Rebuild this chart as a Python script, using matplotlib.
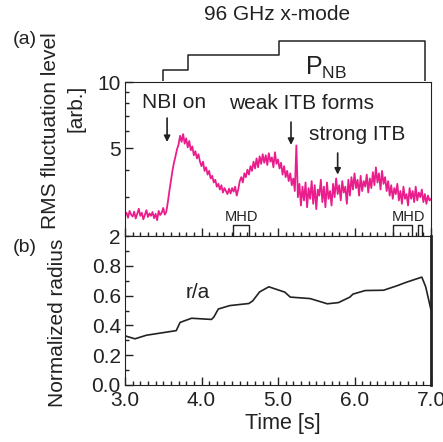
import numpy as np
import matplotlib.pyplot as plt
from matplotlib.ticker import FixedLocator, MultipleLocator, NullFormatter

plt.rcParams['font.family'] = ['Liberation Sans', 'DejaVu Sans']
plt.rcParams['text.color'] = '#222222'

# RMS fluctuation level [arb.], sampled every 0.02 s from 3.00 s to 7.00 s
rms_t0, rms_dt = 3.0, 0.02
rms = [
    2.48, 2.55, 2.42, 2.60, 2.50, 2.45, 2.58, 2.40, 2.52, 2.66,
    2.47, 2.55, 2.38, 2.50, 2.62, 2.44, 2.53, 2.47, 2.57, 2.41,
    2.52, 2.36, 2.60, 2.49, 2.55, 2.68, 2.50, 2.58, 2.85, 3.20,
    3.55, 3.95, 4.30, 4.60, 4.95, 5.20, 5.70, 5.35, 5.80, 5.25,
    5.55, 5.05, 5.40, 4.90, 5.10, 4.65, 4.85, 4.50, 4.70, 4.35,
    4.15, 4.35, 3.95, 4.10, 3.80, 3.95, 3.65, 3.75, 3.50, 3.60,
    3.35, 3.45, 3.25, 3.40, 3.15, 3.30, 3.20, 3.10, 3.28, 3.12,
    3.30, 3.18, 3.35, 3.05, 3.25, 3.55, 3.70, 3.50, 3.85, 3.70,
    4.00, 3.80, 4.15, 3.95, 4.35, 4.05, 4.50, 4.10, 4.60, 4.25,
    4.70, 4.30, 4.65, 4.20, 4.75, 4.35, 4.55, 4.10, 4.80, 4.25,
    4.45, 4.05, 4.30, 3.80, 4.15, 3.70, 3.95, 3.55, 3.85, 3.40,
    3.65, 3.20, 5.15, 3.00, 3.45, 2.75, 3.35, 2.90, 3.50, 2.70,
    3.30, 2.95, 3.55, 2.80, 3.40, 2.65, 3.25, 3.05, 3.60, 2.85,
    3.35, 2.70, 3.50, 2.95, 3.20, 2.75, 3.45, 3.00, 3.65, 3.10,
    3.40, 2.90, 3.55, 3.15, 3.35, 2.80, 3.60, 3.05, 3.70, 3.25,
    3.85, 3.30, 3.60, 3.05, 3.75, 3.20, 3.55, 3.35, 3.80, 3.15,
    3.65, 3.30, 3.90, 3.40, 4.10, 3.50, 3.85, 3.25, 3.95, 3.45,
    3.70, 3.20, 3.55, 3.05, 3.40, 2.95, 3.30, 3.10, 3.45, 2.90,
    3.20, 2.80, 3.35, 2.95, 3.10, 2.75, 3.30, 2.95, 3.20, 2.85,
    3.35, 2.90, 3.15, 3.00, 3.25, 2.85, 3.10, 2.80, 3.05, 2.90,
    2.95,
]
rms_time = rms_t0 + rms_dt * np.arange(len(rms))

# normalized radius r/a
ra_time = [3.0, 3.13, 3.28, 3.67, 3.72, 3.87, 4.13, 4.16, 4.22, 4.37, 4.62, 4.67,
           4.76, 4.88, 5.09, 5.16, 5.42, 5.645, 5.79, 5.94, 5.98, 6.14, 6.38, 6.55,
           6.68, 6.88, 6.93, 7.0]
ra = [0.33, 0.31, 0.334, 0.365, 0.42, 0.448, 0.44, 0.455, 0.51, 0.533, 0.547, 0.565,
      0.625, 0.659, 0.623, 0.59, 0.58, 0.545, 0.553, 0.59, 0.61, 0.634, 0.636, 0.665,
      0.69, 0.724, 0.66, 0.504]

# NB power steps (arb.)
pnb_time = [3.5, 3.5, 3.82, 5.01, 6.92]
pnb = [0, 1.1, 2.5, 3.9, 0]

# MHD windows
mhd1 = (4.41, 4.62)
mhd2 = [(6.50, 6.75), (6.83, 6.88)]

pink = '#E91E8C'
W, H = 443, 442
fig = plt.figure(figsize=(W / 100, H / 100), dpi=100)

x0, x1 = 125 / W, 431 / W
ax1 = fig.add_axes([x0, 1 - 236 / H, x1 - x0, (236 - 82) / H])
ax2 = fig.add_axes([x0, 1 - 385 / H, x1 - x0, (385 - 236) / H])
axp = fig.add_axes([x0, 1 - 81 / H, x1 - x0, 41 / H])

# PNB
axp.step(pnb_time, pnb, where='post', color='#222222', lw=1.1)
axp.set_xlim(3, 7)
axp.set_ylim(0, 4)
axp.axis('off')
axp.text(5.63, 1.3, r'$\mathregular{P_{NB}}$', fontsize=18, ha='center', va='center')

# panel (a)
ax1.plot(rms_time, rms, color=pink, lw=1.3)
ax1.set_yscale('log')
ax1.set_xlim(3, 7)
ax1.set_ylim(2, 10)
ax1.yaxis.set_major_locator(FixedLocator([2, 5, 10]))
ax1.yaxis.set_minor_locator(FixedLocator([3, 4, 6, 7, 8, 9]))
ax1.yaxis.set_major_formatter(plt.FuncFormatter(lambda v, p: '%d' % v))
ax1.yaxis.set_minor_formatter(NullFormatter())
ax1.xaxis.set_major_locator(MultipleLocator(1))
ax1.xaxis.set_minor_locator(MultipleLocator(0.1))
ax1.tick_params(axis='x', labelbottom=False)

for m in [mhd1] + mhd2:
    ax1.plot([m[0], m[0], m[1], m[1]], [2, 2.24, 2.24, 2], color='#222222', lw=1)
ax1.text(4.52, 2.27, 'MHD', fontsize=10.5, ha='center', va='bottom')
ax1.text(6.71, 2.27, 'MHD', fontsize=10.5, ha='center', va='bottom')

akw = dict(arrowprops=dict(arrowstyle='-|>', color='#222222', lw=1.2,
                           mutation_scale=9, shrinkA=0, shrinkB=0))
ax1.annotate('', xy=(3.55, 5.34), xytext=(3.55, 6.86), **akw)
ax1.annotate('', xy=(5.17, 5.18), xytext=(5.17, 6.58), **akw)
ax1.annotate('', xy=(5.78, 3.8), xytext=(5.78, 4.76), **akw)
ax1.text(3.64, 8.1, 'NBI on', fontsize=15, ha='center', va='center')
ax1.text(5.31, 7.95, 'weak ITB forms', fontsize=15, ha='center', va='center')
ax1.text(6.03, 5.75, 'strong ITB', fontsize=15, ha='center', va='center')

# panel (b)
ax2.plot(ra_time, ra, color='#222222', lw=1.2)
ax2.set_xlim(3, 7)
ax2.set_ylim(0, 1.0)
ax2.set_yticks([0.0, 0.2, 0.4, 0.6, 0.8])
ax2.yaxis.set_minor_locator(MultipleLocator(0.1))
ax2.yaxis.set_major_formatter(plt.FuncFormatter(lambda v, p: '%.1f' % v))
ax2.xaxis.set_major_locator(MultipleLocator(1))
ax2.xaxis.set_minor_locator(MultipleLocator(0.1))
ax2.xaxis.set_major_formatter(plt.FuncFormatter(lambda v, p: '%.1f' % v))
ax2.text(3.95, 0.62, 'r/a', fontsize=15, ha='center', va='center')
ax2.spines['right'].set_linewidth(2)

for ax in (ax1, ax2):
    ax.tick_params(which='both', direction='in', top=False, right=False,
                   labelsize=15, colors='#222222')
    ax.tick_params(axis='y', pad=3)
    ax.tick_params(axis='x', pad=4)
    ax.tick_params(which='major', length=6, width=1)
    ax.tick_params(which='minor', length=3, width=1)
    for s in ax.spines.values():
        s.set_color('#222222')

fig.text(277 / W, 1 - 15 / H, '96 GHz x-mode', fontsize=15, ha='center', va='center')
fig.text(25 / W, 1 - 39 / H, '(a)', fontsize=14, ha='center', va='center')
fig.text(25 / W, 1 - 247 / H, '(b)', fontsize=14, ha='center', va='center')
fig.text(51 / W, 1 - 131 / H, 'RMS fluctuation level', fontsize=15,
         rotation=90, ha='center', va='center')
fig.text(76 / W, 1 - 108 / H, '[arb.]', fontsize=15, rotation=90, ha='center', va='center')
fig.text(58 / W, 1 - 323 / H, 'Normalized radius', fontsize=15,
         rotation=90, ha='center', va='center')
fig.text(283 / W, 1 - 424 / H, 'Time [s]', fontsize=15.5, ha='center', va='center')

fig.savefig('out.png', dpi=100)
